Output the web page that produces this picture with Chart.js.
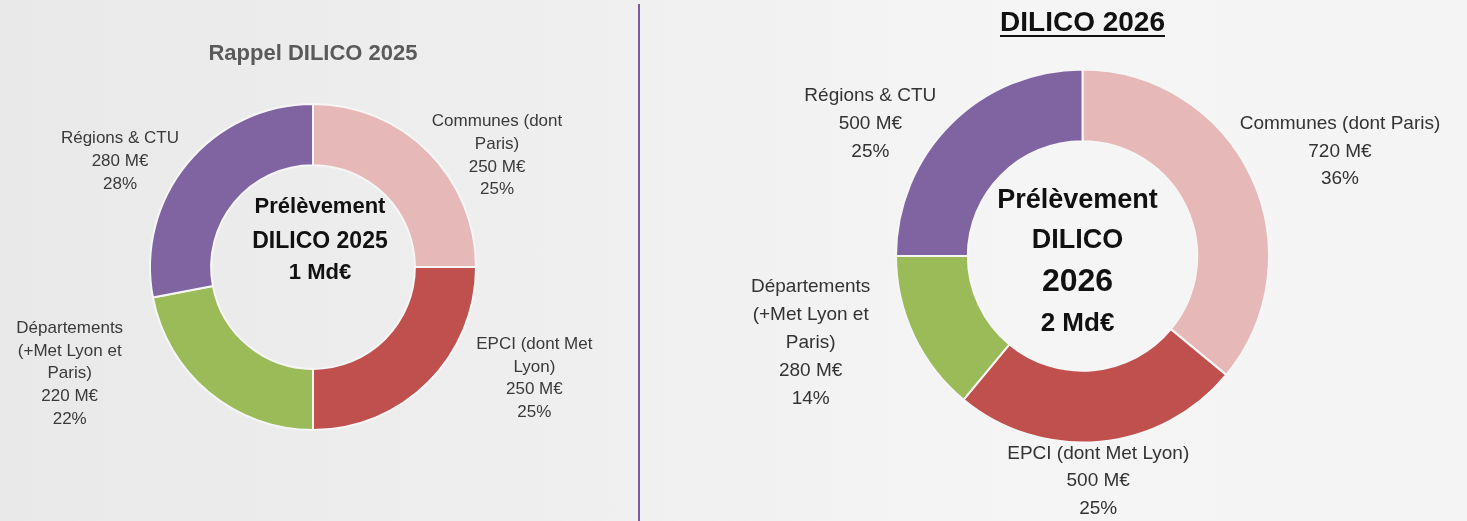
<!DOCTYPE html>
<html lang="fr">
<head>
<meta charset="utf-8">
<title>DILICO 2025 / 2026</title>
<script src="https://cdn.jsdelivr.net/npm/chart.js@4.4.1/dist/chart.umd.min.js"></script>
<style>
    html, body {
        margin: 0;
        padding: 0;
    }
    body {
        width: 1467px;
        height: 521px;
        overflow: hidden;
        position: relative;
        background: linear-gradient(90deg, #e9e9e9 0%, #efefef 40%, #f5f5f5 70%, #f4f4f4 100%);
    }
    canvas {
        position: absolute;
        top: 0;
        display: block;
    }
    #divider {
        position: absolute;
        left: 638px;
        top: 4px;
        width: 2px;
        height: 517px;
        background: #7e5a9b;
    }
</style>
</head>
<body>
<canvas id="chart2025"></canvas>
<div id="divider"></div>
<canvas id="chart2026"></canvas>
<script>
// categories, one array of text lines per slice
const categories2025 = [['Communes (dont', 'Paris)'], ['EPCI (dont Met', 'Lyon)'], ['Départements', '(+Met Lyon et', 'Paris)'], ['Régions & CTU']];
const categories2026 = [['Communes (dont Paris)'], ['EPCI (dont Met Lyon)'], ['Départements', '(+Met Lyon et', 'Paris)'], ['Régions & CTU']];

// prélèvement in M€
const values2025 = [250, 250, 220, 280];
const values2026 = [720, 500, 280, 500];

const sliceColors = ['#e6b8b7', '#c0504d', '#9bbb59', '#8064a2'];

const FONT = '"Liberation Sans", Arial, sans-serif';

const doughnutText = {
    id: 'doughnutText',
    afterDatasetsDraw(chart, args, opts) {
        const { ctx } = chart;
        const values = chart.data.datasets[0].data;
        const total = values.reduce((a, b) => a + b, 0);
        const { x, y, outerRadius } = chart.getDatasetMeta(0).data[0].getProps(['x', 'y', 'outerRadius'], true);

        ctx.save();
        ctx.textAlign = 'center';
        ctx.textBaseline = 'middle';

        // labels around the ring
        ctx.font = opts.labelFont;
        ctx.fillStyle = opts.labelColor;
        chart.data.labels.forEach((name, i) => {
            const lines = [...name, `${values[i]} M€`, `${Math.round(values[i] / total * 100)}%`];
            const [deg, dist] = opts.labelPlacement[i];
            const a = deg * Math.PI / 180;
            const cx = x + Math.sin(a) * dist * outerRadius;
            const cy = y - Math.cos(a) * dist * outerRadius;
            const top = cy - (lines.length - 1) * opts.lineHeight / 2;
            lines.forEach((line, j) => ctx.fillText(line, cx, top + j * opts.lineHeight));
        });

        // text in the hole
        ctx.fillStyle = '#111';
        opts.centerLines.forEach((line) => {
            const text = line.text.replace('{total}', `${total / 1000} Md€`);
            ctx.font = line.font;
            ctx.fillText(text, x + opts.centerShift, y + line.dy);
        });

        // title
        const title = opts.title;
        ctx.font = title.font;
        ctx.fillStyle = title.color;
        ctx.fillText(title.text, x, title.y);
        if (title.underline) {
            const w = ctx.measureText(title.text).width;
            ctx.fillRect(x - w / 2, title.y + 12, w, 2);
        }

        ctx.restore();
    }
};

function buildChart(canvasId, left, width, categories, values, cfg) {
    const canvas = document.getElementById(canvasId);
    canvas.width = width;
    canvas.height = 521;
    canvas.style.width = `${width}px`;
    canvas.style.height = '521px';
    canvas.style.left = `${left}px`;

    return new Chart(canvas, {
        type: 'doughnut',
        data: {
            labels: categories,
            datasets: [{
                data: values,
                backgroundColor: sliceColors,
                borderColor: '#f6f6f6',
                borderWidth: 2,
            }],
        },
        options: {
            responsive: false,
            animation: false,
            events: [],
            cutout: cfg.cutout,
            layout: { padding: cfg.padding },
            plugins: {
                legend: { display: false },
                tooltip: { enabled: false },
                doughnutText: cfg.text,
            },
        },
        plugins: [doughnutText],
    });
}

buildChart('chart2025', 0, 638, categories2025, values2025, {
    cutout: '62.5%',
    padding: { left: 149, right: 161, top: 103, bottom: 90 },
    text: {
        labelFont: `17px ${FONT}`,
        labelColor: '#3a3a3a',
        lineHeight: 22.7,
        labelPlacement: [[58.8, 1.32], [116.7, 1.52], [246.3, 1.63], [298.7, 1.35]],
        centerShift: 7,
        centerLines: [
            { text: 'Prélèvement', font: `bold 22px ${FONT}`, dy: -60 },
            { text: 'DILICO 2025', font: `bold 23px ${FONT}`, dy: -25 },
            { text: '{total}', font: `bold 22px ${FONT}`, dy: 6 },
        ],
        title: { text: 'Rappel DILICO 2025', font: `bold 22px ${FONT}`, color: '#5a5a5a', y: 54 },
    },
});

buildChart('chart2026', 640, 827, categories2026, values2026, {
    cutout: '61.5%',
    padding: { left: 255, right: 197, top: 68, bottom: 77 },
    text: {
        labelFont: `19px ${FONT}`,
        labelColor: '#333333',
        lineHeight: 27.8,
        labelPlacement: [[67.9, 1.49], [176, 1.21], [252.3, 1.53], [301.9, 1.34]],
        centerShift: -5,
        centerLines: [
            { text: 'Prélèvement', font: `bold 27px ${FONT}`, dy: -55 },
            { text: 'DILICO', font: `bold 27px ${FONT}`, dy: -15 },
            { text: '2026', font: `bold 32px ${FONT}`, dy: 26 },
            { text: '{total}', font: `bold 26px ${FONT}`, dy: 68 },
        ],
        title: { text: 'DILICO 2026', font: `bold 28px ${FONT}`, color: '#111111', y: 23, underline: true },
    },
});
</script>
</body>
</html>
